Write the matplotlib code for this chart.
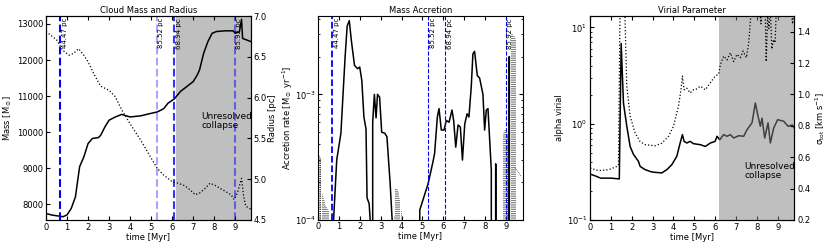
import numpy as np
import matplotlib
matplotlib.use('Agg')
import matplotlib.pyplot as plt

plt.rcParams['font.family'] = 'DejaVu Sans'
plt.rcParams['font.size'] = 6
plt.rcParams['mathtext.default'] = 'regular'

# cloud mass [Msun] vs time [Myr]
mass_t = [0.0, 0.3, 0.6, 0.8, 1.0, 1.2, 1.4, 1.5, 1.6, 1.8, 2.0, 2.2, 2.5, 2.6, 2.8, 3.0, 3.3, 3.6,
          4.0, 4.5, 5.0, 5.3, 5.6, 5.8, 6.1, 6.4, 6.8, 7.0, 7.2, 7.3, 7.5, 7.7, 7.9, 8.1, 8.5, 8.9,
          9.0, 9.2, 9.3, 9.35, 9.75]
mass = [7740, 7695, 7670, 7650, 7700, 7880, 8200, 8620, 9040, 9310, 9680, 9820, 9850, 9910, 10140,
        10330, 10420, 10490, 10420, 10450, 10520, 10560, 10650, 10800, 10920, 11130, 11310, 11400,
        11590, 11720, 12190, 12510, 12740, 12790, 12810, 12810, 12740, 12790, 13130, 12600, 12510]

# cloud radius [pc]
rad_t = [0.0, 0.5, 0.8, 1.1, 1.3, 1.55, 1.8, 2.0, 2.3, 2.6, 3.0, 3.3, 3.6, 4.0, 4.5, 5.0, 5.3, 5.6,
         6.0, 6.3, 6.6, 6.8, 7.1, 7.3, 7.5, 7.8, 8.0, 8.4, 8.8, 8.95, 9.1, 9.3, 9.4, 9.5, 9.75]
radius = [6.81, 6.71, 6.58, 6.52, 6.54, 6.60, 6.52, 6.44, 6.28, 6.14, 6.09, 6.01, 5.85, 5.68, 5.48,
          5.26, 5.13, 5.05, 4.97, 4.95, 4.92, 4.88, 4.81, 4.83, 4.87, 4.95, 4.93, 4.87, 4.81, 4.75,
          4.83, 5.01, 4.79, 4.67, 4.63]

# accretion rate [Msun/yr], 0 = no accretion
acc_t = [0.0, 0.7, 0.75, 0.9, 1.1, 1.3, 1.4, 1.5, 1.6, 1.75, 1.9, 2.0, 2.1, 2.2, 2.3, 2.35, 2.45, 2.5,
         2.55, 2.62, 2.7, 2.78, 2.85, 2.95, 3.05, 3.2, 3.3, 3.45, 3.55, 3.6,
         4.8, 4.87, 5.27, 5.5, 5.58, 5.71, 5.79, 5.9, 6.03, 6.14, 6.27, 6.41, 6.49, 6.59, 6.7, 6.81,
         6.91, 7.02, 7.13, 7.22, 7.33, 7.41, 7.49, 7.62, 7.73, 7.89, 7.97, 8.05, 8.13, 8.29, 8.4,
         8.5, 8.6, 8.65, 9.12, 9.15, 9.17, 9.8]
acc = [0, 0, 1.0e-4, 3.0e-4, 4.9e-4, 1.98e-3, 3.5e-3, 3.86e-3, 2.68e-3, 1.7e-3, 1.6e-3, 1.65e-3,
       1.29e-3, 6.6e-4, 5.3e-4, 1.5e-4, 1.35e-4, 1.0e-4, 0,
       6.0e-4, 1.0e-3, 6.5e-4, 1.0e-3, 9.5e-4, 5.0e-4, 4.9e-4, 4.6e-4, 2.0e-4, 1.0e-4, 0,
       0, 1.2e-4, 1.95e-4, 2.9e-4, 3.4e-4, 6.6e-4, 7.7e-4, 5.2e-4, 5.2e-4, 6.2e-4, 6.0e-4, 7.5e-4,
       6.2e-4, 3.8e-4, 5.7e-4, 5.5e-4, 3.0e-4, 5.8e-4, 7.0e-4, 6.6e-4, 1.14e-3, 2.1e-3, 2.2e-3,
       1.41e-3, 1.35e-3, 1.0e-3, 5.2e-4, 7.5e-4, 7.7e-4, 2.5e-4, 0, 2.8e-4, 0, 0, 0, 2.0e-3, 0, 0]

# mass loss (dotted)
out_t = [0.06, 0.09, 0.12, 0.2, 0.24, 0.28, 0.34, 0.38, 0.44, 0.5, 3.62, 3.68, 3.72, 3.78, 3.84,
         3.9, 3.96, 8.86, 8.9, 8.94, 8.98, 9.02, 9.06, 9.1, 9.24, 9.28, 9.32, 9.36, 9.4]
out_rate = [3.3e-4, 3.2e-4, 3.1e-4, 1.6e-4, 1.5e-4, 1.45e-4, 1.35e-4, 1.3e-4, 1.25e-4, 1.2e-4,
            1.1e-4, 1.8e-4, 1.8e-4, 1.75e-4, 1.7e-4, 1.5e-4, 1.2e-4, 5.0e-4, 5.2e-4, 5.3e-4,
            5.2e-4, 5.0e-4, 4.8e-4, 4.6e-4, 3.0e-3, 3.0e-3, 2.9e-3, 2.9e-3, 2.8e-3]
tail_t = [9.43, 9.5, 9.6, 9.72]
tail_rate = [2.6e-4, 2.5e-4, 2.4e-4, 2.2e-4]

# virial parameter
vir_t = [0.0, 0.3, 0.5, 1.0, 1.39, 1.40, 1.49, 1.6, 1.76, 1.92, 2.08, 2.32, 2.4, 2.64, 2.96, 3.44,
         3.68, 3.92, 4.16, 4.32, 4.43, 4.51, 4.64, 4.8, 4.96, 5.29, 5.53, 5.77, 6.0, 6.09, 6.22,
         6.41, 6.57, 6.73, 6.89, 7.13, 7.37, 7.53, 7.77, 7.93, 8.06, 8.17, 8.25, 8.38, 8.54, 8.65,
         8.81, 9.0, 9.29, 9.5, 9.7, 9.8]
alpha_vir = [0.30, 0.284, 0.272, 0.272, 0.267, 0.267, 6.8, 1.64, 0.94, 0.58, 0.48, 0.406, 0.36,
             0.333, 0.315, 0.308, 0.333, 0.375, 0.458, 0.63, 0.77, 0.655, 0.63, 0.655, 0.62,
             0.605, 0.58, 0.63, 0.655, 0.74, 0.68, 0.77, 0.74, 0.77, 0.71, 0.75, 0.74, 0.866,
             1.02, 1.64, 1.19, 0.94, 1.14, 0.71, 1.02, 0.63, 0.90, 1.10, 1.06, 0.94, 0.97, 0.90]

# velocity dispersion [km/s]
sig_t = [0.0, 0.4, 0.88, 1.28, 1.36, 1.44, 1.65, 1.76, 1.92, 2.16, 2.4, 2.64, 3.12, 3.44, 3.76,
         4.0, 4.24, 4.36, 4.43, 4.51, 4.64, 4.8, 4.96, 5.05, 5.29, 5.53, 5.77, 6.0, 6.17, 6.25,
         6.41, 6.57, 6.73, 6.89, 7.05, 7.21, 7.34, 7.5, 7.61, 7.77, 8.1, 8.2, 8.3, 8.4, 8.45,
         8.52, 8.58, 8.65, 8.72, 8.8, 8.88, 8.95, 9.5, 9.72, 9.8]
sigma = [0.531, 0.515, 0.52, 0.541, 0.552, 1.6, 1.6, 1.053, 0.861, 0.755, 0.70, 0.68, 0.673, 0.69,
         0.733, 0.797, 0.925, 1.03, 1.117, 1.03, 1.04, 1.01, 1.03, 1.03, 1.053, 1.03, 1.075, 1.117,
         1.13, 1.19, 1.245, 1.22, 1.266, 1.21, 1.256, 1.235, 1.277, 1.235, 1.33, 1.6, 1.6, 1.45,
         1.6, 1.55, 1.21, 1.5, 1.42, 1.55, 1.29, 1.35, 1.33, 1.6, 1.7, 1.45, 1.6]

# events: time, label, alpha in first panel
ev_t = [0.67, 5.27, 6.08, 8.98]
ev_label = ['44.47 pc', '85.52 pc', '68.94 pc', '85.92 pc']
ev_alpha = [1.0, 0.35, 0.8, 0.5]
collapse_t = 6.2

fig = plt.figure(figsize=(8.3, 2.49), dpi=100)
ax1 = fig.add_axes([0.0554, 0.1165, 0.247, 0.819])
ax2 = fig.add_axes([0.383, 0.1165, 0.247, 0.819])
ax3 = fig.add_axes([0.711, 0.1165, 0.246, 0.819])

# Cloud Mass and Radius
ax1.axvspan(collapse_t, 10, color='gray', alpha=0.5, lw=0)
ax1.plot(mass_t, mass, 'k-', lw=1.1)
ax1.set_xlim(0, 9.75)
ax1.set_ylim(7560, 13220)
ax1.set_yticks([8000, 9000, 10000, 11000, 12000, 13000])
ax1.set_xticks(range(10))
ax1.set_xlabel('time [Myr]', labelpad=1)
ax1.set_ylabel(r'Mass [M$_\odot$]', labelpad=2)
ax1.set_title('Cloud Mass and Radius', fontsize=6, pad=2)
for t, lab, a in zip(ev_t, ev_label, ev_alpha):
    ax1.axvline(t, color='b', ls='--', lw=1.5, alpha=a)
    ax1.text(t + 0.08, 0.99, lab, rotation=90, va='top', ha='left', fontsize=5,
             transform=ax1.get_xaxis_transform())
ax1.text(7.38, 10300, 'Unresolved\ncollapse', fontsize=6.5, va='center', ha='left', linespacing=1.0)
ax1.tick_params(direction='in', top=True, right=False, length=3, pad=2)
ax1b = ax1.twinx()
ax1b.plot(rad_t, radius, 'k:', lw=0.9)
ax1b.set_ylim(4.5, 7.0)
ax1b.set_yticks([4.5, 5.0, 5.5, 6.0, 6.5, 7.0])
ax1b.set_ylabel('Radius [pc]', labelpad=1)
ax1b.tick_params(direction='in', length=3, pad=2)

# Mass Accretion
ax2.set_yscale('log')
ax2.plot(acc_t, acc, 'k-', lw=1.1)
ax2.vlines(out_t, 1e-5, out_rate, colors='k', linestyles=':', lw=0.5)
ax2.plot(tail_t, tail_rate, 'k:', lw=0.5)
ax2.set_xlim(0, 9.8)
ax2.set_ylim(1e-4, 4.2e-3)
ax2.set_xticks(range(10))
for i, (t, lab) in enumerate(zip(ev_t, ev_label)):
    ax2.axvline(t, color='b', ls='--', lw=1.3 if i == 0 else 0.8)
    ax2.text(t + 0.08, 0.99, lab, rotation=90, va='top', ha='left', fontsize=5,
             transform=ax2.get_xaxis_transform())
ax2.set_xlabel('time [Myr]', labelpad=1)
ax2.set_ylabel(r'Accretion rate [M$_\odot$ yr$^{-1}$]', labelpad=0)
ax2.set_title('Mass Accretion', fontsize=6, pad=2)
ax2.tick_params(which='both', direction='in', top=True, right=True, pad=1.5)
ax2.tick_params(which='major', length=3)
ax2.tick_params(which='minor', length=1.5)

# Virial Parameter
ax3.set_yscale('log')
ax3.plot(vir_t, alpha_vir, 'k-', lw=1.1)
ax3.set_xlim(0, 9.8)
ax3.set_ylim(0.1, 13.1)
ax3.set_xticks(range(10))
ax3.set_xlabel('time [Myr]', labelpad=1)
ax3.set_ylabel('alpha virial', labelpad=2)
ax3.set_title('Virial Parameter', fontsize=6, pad=2)
ax3.tick_params(which='both', direction='in', top=True, right=False, pad=2)
ax3.tick_params(which='major', length=3)
ax3.tick_params(which='minor', length=1.5)
ax3b = ax3.twinx()
ax3b.axvspan(collapse_t, 10, color='gray', alpha=0.5, lw=0)
ax3b.plot(sig_t, sigma, 'k:', lw=0.9)
ax3b.set_ylim(0.2, 1.5)
ax3b.set_yticks([0.2, 0.4, 0.6, 0.8, 1.0, 1.2, 1.4])
ax3b.set_ylabel(r'$\sigma_{tot}$ [km s$^{-1}$]', labelpad=2)
ax3b.tick_params(direction='in', length=3, pad=2)
ax3b.text(7.42, 0.51, 'Unresolved\ncollapse', fontsize=6.5, va='center', ha='left', linespacing=1.0)

fig.savefig('out.png', dpi=100)
